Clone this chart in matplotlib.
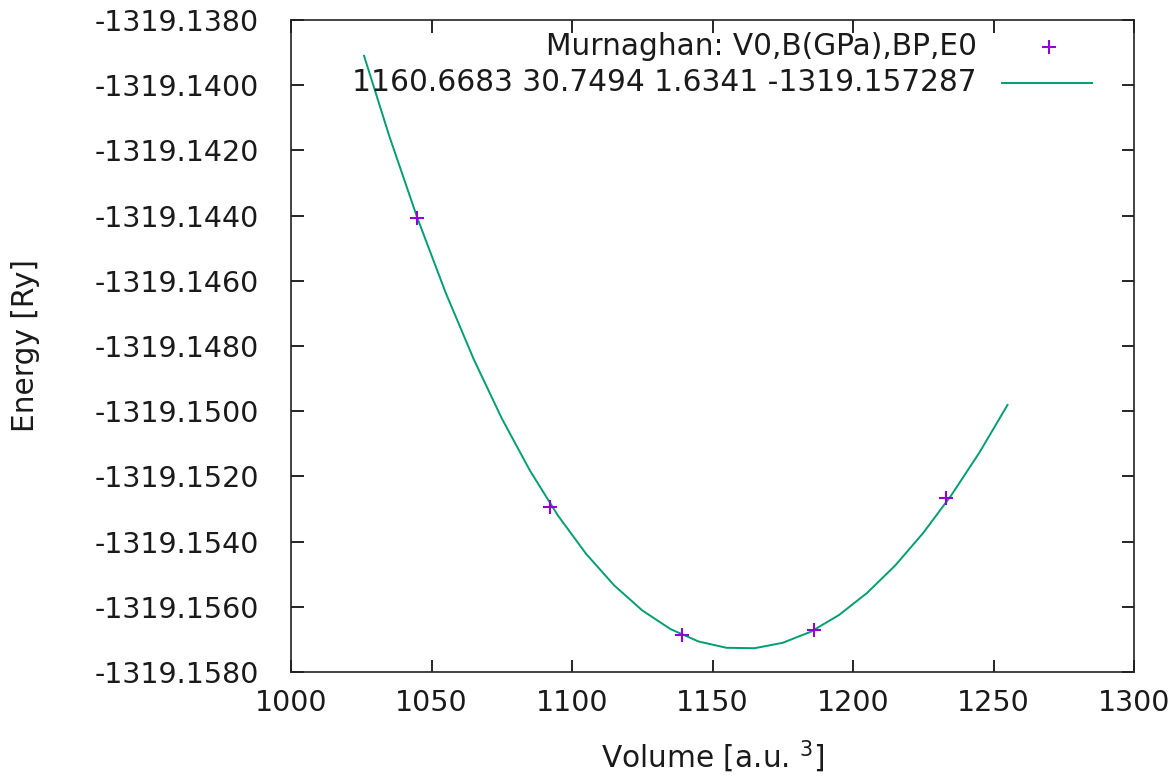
import matplotlib
matplotlib.use("Agg")
from matplotlib import pyplot as plt
from matplotlib.ticker import FormatStrFormatter, MultipleLocator

# data points (volume, energy)
volumes = [1045, 1092, 1139, 1186, 1233]
energies = [-1319.14406, -1319.15295, -1319.15686, -1319.15671, -1319.15265]

# fitted curve
fit_volumes = [1026, 1035, 1045, 1055, 1065, 1075, 1085, 1095, 1105, 1115, 1125, 1135,
               1145, 1155, 1165, 1175, 1185, 1195, 1205, 1215, 1225, 1235, 1245, 1255]
fit_energies = [-1319.139100, -1319.141566, -1319.144080, -1319.146356, -1319.148401,
                -1319.150219, -1319.151817, -1319.153201, -1319.154374, -1319.155342,
                -1319.156110, -1319.156682, -1319.157063, -1319.157258, -1319.157270,
                -1319.157104, -1319.156764, -1319.156253, -1319.155575, -1319.154734,
                -1319.153733, -1319.152576, -1319.151266, -1319.149807]

title_1 = "Murnaghan: V0,B(GPa),BP,E0"
title_2 = "1160.6683 30.7494 1.6341 -1319.157287"

plt.rcParams['font.family'] = ['DejaVu Sans']
fs = 21.3
tick_fs = 20.5
point_color = '#9400d3'
line_color = '#009e73'
text_color = '#1a1a1a'

fig = plt.figure(figsize=(11.7, 7.8), dpi=100, facecolor='w')
ax = fig.add_axes([291/1170, 108/780, 843/1170, 652/780])

ax.plot(fit_volumes, fit_energies, color=line_color, lw=1.4, zorder=2)
ax.plot(volumes, energies, ls='none', marker='+', ms=10, mew=1.5,
        color=point_color, zorder=3)

ax.set_xlim(1000, 1300)
ax.set_ylim(-1319.158, -1319.138)
ax.xaxis.set_major_locator(MultipleLocator(50))
ax.yaxis.set_major_locator(MultipleLocator(0.002))
ax.yaxis.set_major_formatter(FormatStrFormatter('%.4f'))

ax.tick_params(direction='in', length=9, width=1.2, top=True, right=True,
               labelsize=tick_fs, colors='black', labelcolor=text_color)
ax.tick_params(axis='y', pad=23)
ax.tick_params(axis='x', pad=12)
for s in ax.spines.values():
    s.set_linewidth(1.2)
    s.set_color('#222222')

ax.set_xlabel('Volume [a.u. $^{3}$]', fontsize=fs, labelpad=16, color=text_color)
ax.set_ylabel('Energy [Ry]', fontsize=fs, labelpad=39, color=text_color)

# key, gnuplot style (titles right-justified)
ax.text(0.8137, 0.9586, title_1, transform=ax.transAxes, ha='right', va='center',
        fontsize=fs, color=text_color)
ax.plot([0.899], [0.9586], transform=ax.transAxes, ls='none', marker='+', ms=10,
        mew=1.5, color=point_color, clip_on=False)
ax.text(0.8137, 0.9034, title_2, transform=ax.transAxes, ha='right', va='center',
        fontsize=fs, color=text_color)
ax.plot([0.8434, 0.9502], [0.9034, 0.9034], transform=ax.transAxes, color=line_color,
        lw=1.4, clip_on=False)

fig.savefig('out.png', dpi=100)
